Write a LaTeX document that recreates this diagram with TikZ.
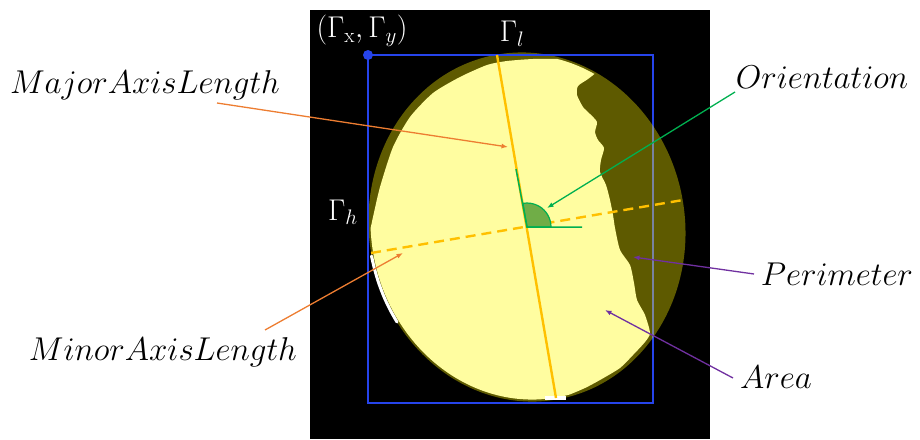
\documentclass[tikz,border=0pt]{standalone}
\usepackage{fix-cm}
\usetikzlibrary{arrows.meta, positioning}

\definecolor{bloboilve}{RGB}{94,90,0}
\definecolor{blobyellow}{RGB}{255,253,160}
\definecolor{boxblue}{RGB}{38,68,235}
\definecolor{edgegray}{RGB}{120,130,160}
\definecolor{axisorange}{RGB}{255,192,0}
\definecolor{callorange}{RGB}{237,125,49}
\definecolor{callgreen}{RGB}{0,176,80}
\definecolor{anglegreen}{RGB}{112,173,71}
\definecolor{callpurple}{RGB}{112,48,160}

\begin{document}
\begin{tikzpicture}[
    x=1pt, y=-1pt,
    lbl/.style={font=\fontsize{33}{38}\selectfont, inner sep=0pt, anchor=base},
    glbl/.style={font=\fontsize{30}{34}\selectfont, text=white, inner sep=0pt},
    axisline/.style={axisorange, line width=2.4pt},
    call/.style={-{Latex[length=6.5pt, width=5pt]}, line width=1.3pt},
]
    \useasboundingbox (0,0) rectangle (920,439);
    \fill[black] (310,10) rectangle (710,439);

    % --- fitted ellipse and the segmented region ---
    \coordinate (c) at (527,227);
    \fill[bloboilve, rotate around={9.7:(c)}] (c) ellipse [x radius=158, y radius=175];
    \begin{scope}
        \clip[rotate around={9.7:(c)}] (c) ellipse [x radius=156, y radius=173];
        \fill[blobyellow] plot[smooth cycle, tension=0.4] coordinates {
            (487,65) (507,61) (533,59) (560,59) (577,61) (590,66) (596,72) (588,79)
            (578,86) (577,95) (583,107) (590,114) (597,122) (595,132) (598,140)
            (604,148) (601,160) (600,172) (606,185) (610,200) (613,215) (615,228)
            (620,250) (630,265) (634,283) (637,300) (645,315) (650,333) (645,342)
            (633,355) (620,368) (600,380) (585,388) (566,396) (548,402) (520,410)
            (470,400) (420,375) (380,330) (360,280) (362,250) (370,230) (373,217)
            (380,187) (393,147) (410,117) (433,93) (460,77)};
    \end{scope}
    \draw[white, line width=3pt, line cap=round] plot[smooth, tension=0.5] coordinates {
        (371.5,256) (374.4,268.6) (378.7,283) (384.2,297.4) (390.7,311) (397,322)};
    \fill[white] (545,396) rectangle (566,400);

    % --- bounding box ---
    \draw[boxblue, line width=2pt] (368,55) rectangle (653,403);
    \begin{scope}
        \clip[rotate around={9.7:(c)}] (c) ellipse [x radius=158, y radius=175];
        \draw[edgegray, line width=2pt] (653,55) -- (653,403);
    \end{scope}
    \fill[boxblue] (368,55) circle (5);

    % --- axes ---
    \coordinate (majtop) at (497,55);
    \coordinate (majbot) at (556,398);
    \coordinate (minl)   at (371,253);
    \coordinate (minr)   at (683,200);
    \draw[axisline] (majtop) -- (majbot);
    \draw[axisline, dash pattern=on 10pt off 6pt] (minl) -- (minr);

    % --- orientation angle ---
    \fill[anglegreen, draw=callgreen, line width=1.2pt]
        (c) -- ++(24,0) arc[start angle=0, end angle=-99.7, radius=24] -- cycle;
    \draw[callgreen, line width=1.5pt] (516,169) -- (c) -- (582,227);

    % --- labels ---
    \node[glbl] (corner) at (362,31)  {$(\Gamma_{\mathrm{x}},\Gamma_y)$};
    \node[glbl] (gl)     at (512,34)  {$\Gamma_l$};
    \node[glbl] (gh)     at (343,212) {$\Gamma_h$};

    \node[lbl] (major)  at (145,93)  {$MajorAxisLength$};
    \node[lbl] (minor)  at (163,360) {$MinorAxisLength$};
    \node[lbl] (orient) at (822,88)  {$Orientation$};
    \node[lbl] (perim)  at (837,285) {$Perimeter$};
    \node[lbl] (area)   at (776,388) {$Area$};

    % --- callouts ---
    \coordinate (majfrom) at (217,103);  \coordinate (majto) at (508,147);
    \coordinate (minfrom) at (265,330);  \coordinate (minto) at (403,253);
    \coordinate (orifrom) at (735,92);   \coordinate (orito) at (547,208);
    \coordinate (perfrom) at (754,274);  \coordinate (perto) at (633,257);
    \coordinate (arefrom) at (733,378);  \coordinate (areto) at (605,310);

    \draw[call, callorange] (majfrom) -- (majto);
    \draw[call, callorange] (minfrom) -- (minto);
    \draw[call, callgreen]  (orifrom) -- (orito);
    \draw[call, callpurple] (perfrom) -- (perto);
    \draw[call, callpurple] (arefrom) -- (areto);
\end{tikzpicture}
\end{document}
